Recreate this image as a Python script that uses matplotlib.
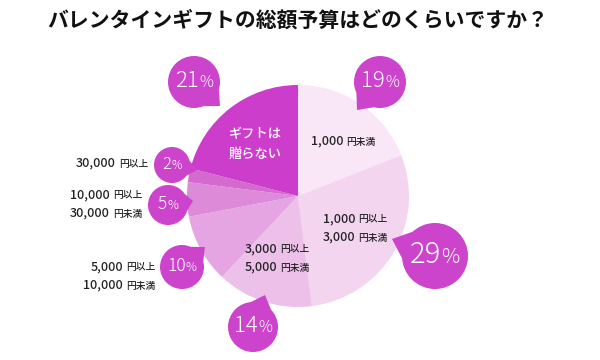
import numpy as np
import matplotlib
matplotlib.use("Agg")
import matplotlib.pyplot as plt
from matplotlib.patches import Circle, Polygon
from matplotlib.offsetbox import TextArea, HPacker, VPacker, AnnotationBbox

plt.rcParams['font.family'] = ['Noto Sans CJK JP', 'DejaVu Sans']

title = "バレンタインギフトの総額予算はどのくらいですか？"
shares = [19, 29, 14, 10, 5, 2, 21]
colors = ['#f9e6f7', '#f4d5f0', '#ecc0e9', '#e5a5e2', '#dd8bd9', '#d46ad0', '#cc3dcc']
# label lines: (number, suffix)
labels = [
    [("1,000", "円未満")],
    [("1,000", "円以上"), ("3,000", "円未満")],
    [("3,000", "円以上"), ("5,000", "円未満")],
    [("5,000", "円以上"), ("10,000", "円未満")],
    [("10,000", "円以上"), ("30,000", "円未満")],
    [("30,000", "円以上")],
    [("ギフトは", ""), ("贈らない", "")],
]

bubble = '#cc44cc'

fig = plt.figure(figsize=(6, 3.6), dpi=100)
ax = fig.add_axes([0, 0, 1, 1])

cx, cy, R = 298, 196, 111
ax.pie(shares, colors=colors, startangle=-90, counterclock=True,
       center=(cx, cy), radius=R, wedgeprops=dict(linewidth=0))
ax.set_xlim(0, 600)
ax.set_ylim(360, 0)
ax.set_aspect('equal')
ax.axis('off')

ax.text(298, 20, title, ha='center', va='center', fontsize=15,
        fontweight='bold', color='#111111')


def mixed(xy, lines, big, small, color, align, box_al, weight='medium'):
    rows = []
    for num, suf in lines:
        parts = [TextArea(num, textprops=dict(size=big, color=color, weight=weight))]
        if suf:
            parts.append(TextArea(suf, textprops=dict(size=small, color=color, weight=weight)))
        rows.append(HPacker(children=parts, align='baseline', pad=0, sep=2))
    box = VPacker(children=rows, align=align, pad=0, sep=4)
    ab = AnnotationBbox(box, xy, xycoords='data', frameon=False,
                        box_alignment=box_al, pad=0)
    ax.add_artist(ab)


# labels inside / beside the pie
label_pos = [(343, 141), (355, 228), (277, 258), (155, 276), (142, 204), (148, 163), (255, 144)]
label_box = [(0.5, 0.5), (0.5, 0.5), (0.5, 0.5), (1, 0.5), (1, 0.5), (1, 0.5), (0.5, 0.5)]
label_align = ['center', 'left', 'left', 'right', 'right', 'right', 'center']
for i, lines in enumerate(labels):
    col = 'white' if i == 6 else '#222222'
    sz = 9.5 if i == 6 else 9
    mixed(label_pos[i], lines, sz, 7, col, label_align[i], label_box[i])

# speech bubbles: center, radius, tail tip, font size
bub_c = [(380, 82), (435, 256), (253, 327), (182, 267), (168, 205), (172, 165), (194, 82)]
bub_r = [26, 33, 25, 22, 20, 18, 26]
bub_tip = [(357, 110), (392, 239), (265, 295), (205, 247), (193, 201), (197, 170), (220, 106)]
bub_fs = [16, 21, 16, 12.5, 12.5, 12, 16]

for i, v in enumerate(shares):
    (bx, by), r, (tx, ty) = bub_c[i], bub_r[i], bub_tip[i]
    phi = np.arctan2(ty - by, tx - bx)
    d = 0.45
    p1 = (bx + r * np.cos(phi + d), by + r * np.sin(phi + d))
    p2 = (bx + r * np.cos(phi - d), by + r * np.sin(phi - d))
    ax.add_patch(Polygon([p1, (tx, ty), p2], closed=True, color=bubble, lw=0, zorder=3))
    ax.add_patch(Circle((bx, by), r, color=bubble, lw=0, zorder=3))
    parts = [TextArea(str(v), textprops=dict(size=bub_fs[i], color='white', weight='light')),
             TextArea('%', textprops=dict(size=bub_fs[i] * 0.7, color='white', weight='light'))]
    box = HPacker(children=parts, align='baseline', pad=0, sep=0)
    ab = AnnotationBbox(box, (bx, by), xycoords='data', frameon=False,
                        box_alignment=(0.5, 0.45), pad=0, zorder=4)
    ax.add_artist(ab)

fig.savefig('out.png', dpi=100)
